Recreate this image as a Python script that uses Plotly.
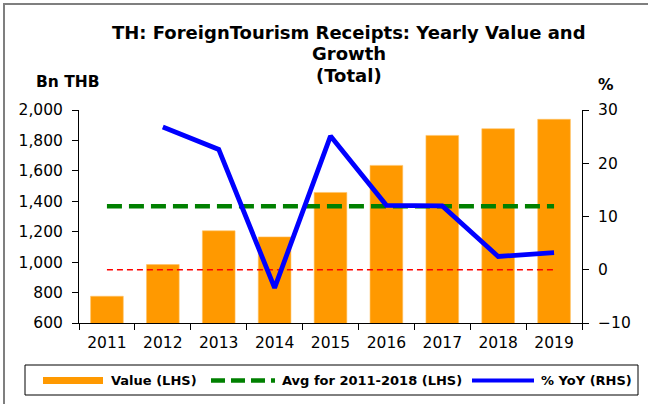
import plotly.graph_objects as go

# ---------------- data ----------------
years = ["2011", "2012", "2013", "2014", "2015", "2016", "2017", "2018", "2019"]
value_bn_thb = [776, 984, 1206, 1166, 1458, 1636, 1833, 1877, 1939]
avg_2011_2018_bn_thb = 1367
yoy_pct = [None, 26.8, 22.6, -3.4, 25.1, 12.1, 12.0, 2.5, 3.2]
zero_pct = 0

left_ticks = [600, 800, 1000, 1200, 1400, 1600, 1800, 2000]
right_ticks = [-10, 0, 10, 20, 30]

avg_line = [avg_2011_2018_bn_thb for _ in years]
zero_line = [zero_pct for _ in years]

# ---------------- layout geometry (pixels) ----------------
W_PX, H_PX = 648, 404
ML, MR, MT, MB = 79, 66, 110, 81
PW = W_PX - ML - MR
PH = H_PX - MT - MB


def px(x):
    return (x - ML) / PW


def py(y):
    return (H_PX - MB - y) / PH


FONT = "DejaVu Sans"
ORANGE = "#FF9900"
GREEN = "#008000"
BLUE = "#0000FF"
RED = "#FF0000"

fig = go.Figure()

fig.add_trace(go.Bar(
    x=years, y=value_bn_thb, name="Value (LHS)",
    marker=dict(color=ORANGE, line=dict(color="#FFC266", width=0.6)),
    yaxis="y", showlegend=False,
))
fig.add_trace(go.Scatter(
    x=years, y=avg_line, name="Avg for 2011-2018 (LHS)", mode="lines",
    line=dict(color=GREEN, width=4.5, dash="15px,7px"),
    yaxis="y", showlegend=False,
))
fig.add_trace(go.Scatter(
    x=years, y=zero_line, name="zero", mode="lines",
    line=dict(color=RED, width=1.6, dash="6px,4px"),
    yaxis="y2", showlegend=False, hoverinfo="skip",
))
fig.add_trace(go.Scatter(
    x=years, y=yoy_pct, name="% YoY (RHS)", mode="lines",
    line=dict(color=BLUE, width=4.8),
    yaxis="y2", showlegend=False, connectgaps=False,
))

fig.update_layout(
    width=W_PX, height=H_PX,
    margin=dict(l=ML, r=MR, t=MT, b=MB, pad=0),
    paper_bgcolor="white", plot_bgcolor="white",
    font=dict(family=FONT, color="black", size=15),
    bargap=0.415,
    showlegend=False,
    xaxis=dict(
        type="category", showgrid=False, zeroline=False,
        showline=True, linecolor="black", linewidth=1,
        ticks="outside", tickson="boundaries", ticklen=6, tickcolor="black",
        ticklabelstandoff=5,
        tickfont=dict(size=15.5, family=FONT, color="black"),
    ),
    yaxis=dict(
        range=[600, 2000], tickvals=left_ticks, tickformat=",",
        showgrid=False, zeroline=False,
        showline=True, linecolor="black", linewidth=1,
        ticks="outside", ticklen=6, tickcolor="black",
        ticklabelstandoff=6,
        tickfont=dict(size=15.5, family=FONT, color="black"),
    ),
    yaxis2=dict(
        range=[-10, 30], tickvals=right_ticks, overlaying="y", side="right",
        showgrid=False, zeroline=False,
        showline=True, linecolor="black", linewidth=1,
        ticks="outside", ticklen=6, tickcolor="black",
        ticklabelstandoff=6,
        tickfont=dict(size=15.5, family=FONT, color="black"),
    ),
)

annotations = []
# title lines
title_lines = ["TH: ForeignTourism Receipts: Yearly Value and", "Growth", "(Total)"]
title_y = [32, 54, 76]
for t, yy in zip(title_lines, title_y):
    annotations.append(dict(
        text="<b>%s</b>" % t, x=px(349), y=py(yy), xref="paper", yref="paper",
        xanchor="center", yanchor="middle", showarrow=False,
        font=dict(family=FONT, size=18, color="black"),
    ))
# axis unit labels
annotations.append(dict(text="<b>Bn THB</b>", x=px(34), y=py(82), xref="paper", yref="paper",
                        xanchor="left", yanchor="middle", showarrow=False,
                        font=dict(family=FONT, size=15.5, color="black")))
annotations.append(dict(text="<b>%</b>", x=px(606), y=py(85), xref="paper", yref="paper",
                        xanchor="center", yanchor="middle", showarrow=False,
                        font=dict(family=FONT, size=15.5, color="black")))

# custom legend
LEG_Y = 380.5
legend_items = [
    ("Value (LHS)", 109),
    ("Avg for 2011-2018 (LHS)", 280),
    ("% YoY (RHS)", 539),
]
for label, xx in legend_items:
    annotations.append(dict(text="<b>%s</b>" % label, x=px(xx), y=py(LEG_Y), xref="paper", yref="paper",
                            xanchor="left", yanchor="middle", showarrow=False,
                            font=dict(family=FONT, size=13, color="black")))

shapes = [
    # outer frame
    dict(type="rect", xref="paper", yref="paper", x0=px(4), x1=px(700), y0=py(460), y1=py(4),
         line=dict(color="#7F7F7F", width=2), fillcolor="rgba(0,0,0,0)", layer="below"),
    # legend box
    dict(type="rect", xref="paper", yref="paper", x0=px(25), x1=px(638), y0=py(395), y1=py(365),
         line=dict(color="black", width=1), fillcolor="white"),
    # legend swatches
    dict(type="rect", xref="paper", yref="paper", x0=px(43), x1=px(103), y0=py(384), y1=py(377),
         line=dict(width=0), fillcolor=ORANGE),
    dict(type="line", xref="paper", yref="paper", x0=px(211), x1=px(275), y0=py(LEG_Y), y1=py(LEG_Y),
         line=dict(color=GREEN, width=4.5, dash="14px,6px")),
    dict(type="line", xref="paper", yref="paper", x0=px(472), x1=px(534), y0=py(LEG_Y), y1=py(LEG_Y),
         line=dict(color=BLUE, width=4)),
]

fig.update_layout(annotations=annotations, shapes=shapes)

fig.write_html(
    "out.html",
    config={"displayModeBar": False},
    post_script="document.body.style.margin='0';document.body.style.overflow='hidden';",
)
